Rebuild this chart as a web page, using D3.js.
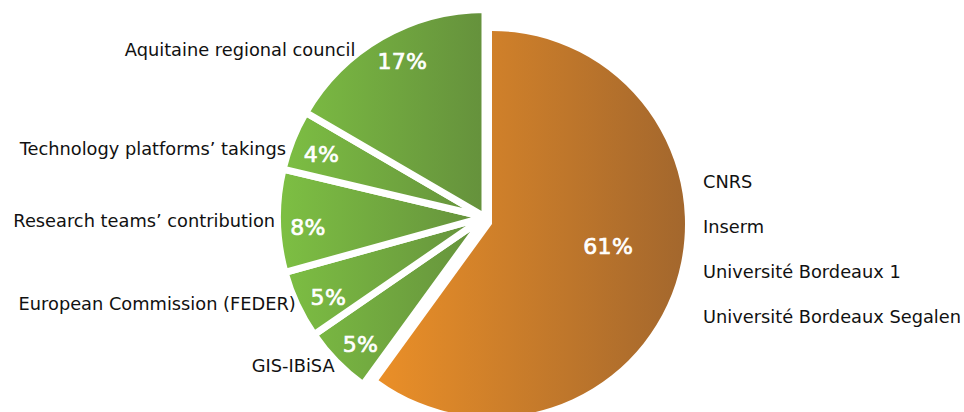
<!DOCTYPE html>
<html><head><meta charset="utf-8">
<script src="https://cdn.jsdelivr.net/npm/d3@7"></script>
<style>
html,body{margin:0;padding:0;background:#fff;}
svg{display:block;font-family:"DejaVu Sans",sans-serif;}
</style></head>
<body><svg id="chart" width="964" height="412"></svg>
<script>
// ---- data ----
const categories = ["Public bodies","GIS-IBiSA","European Commission (FEDER)","Research teams’ contribution","Technology platforms’ takings","Aquitaine regional council"];
const values = [60.0, 5.4, 5.3, 8.0, 4.7, 16.6];
const valueLabels = ["61%","5%","5%","8%","4%","17%"];
const publicBodies = ["CNRS","Inserm","Université Bordeaux 1","Université Bordeaux Segalen"];

// ---- layout ----
const W = 964, H = 412;
const cx = 485, cy = 217;           // centre of the green slices
const R = 207.5, gap = 7;
const orangeShift = [7, 7];         // exploded "public bodies" slice
const Ro = 193;

const svg = d3.select("#chart");
const defs = svg.append("defs");
const gGreen = defs.append("linearGradient").attr("id","gGreen")
  .attr("gradientUnits","userSpaceOnUse").attr("x1",-205).attr("x2",0).attr("y1",0).attr("y2",0);
gGreen.append("stop").attr("offset","0%").attr("stop-color","#7dbf43");
gGreen.append("stop").attr("offset","100%").attr("stop-color","#65913c");
const gOrange = defs.append("linearGradient").attr("id","gOrange")
  .attr("gradientUnits","userSpaceOnUse").attr("x1",-160).attr("x2",Ro).attr("y1",0).attr("y2",0);
gOrange.append("stop").attr("offset","0%").attr("stop-color","#f59527");
gOrange.append("stop").attr("offset","100%").attr("stop-color","#a3672d");

const pie = d3.pie().sort(null).value(d => d)(values);
const arc = d3.arc().innerRadius(0).outerRadius(R);
const arcOrange = d3.arc().innerRadius(0).outerRadius(Ro);
const pctArc = d3.arc().innerRadius(174).outerRadius(174);
const nameArc = d3.arc().innerRadius(210).outerRadius(210);
const pctNudge = [[4,-14],[0,6],[1,7],[-3,7],[-2,2],[4,-5]];
const nameNudge = [[0,0],[0,2],[1,-2],[0,0],[-4,9],[-25,15]];

const pctStyle = sel => sel.attr("text-anchor","middle").attr("dominant-baseline","central")
  .attr("fill","#fff").attr("stroke","#fff").attr("stroke-width",0.7)
  .attr("font-size",22).attr("letter-spacing",0.3);

// orange slice
const go = svg.append("g").attr("transform",`translate(${cx+orangeShift[0]},${cy+orangeShift[1]})`);
go.append("path").attr("d",arcOrange(pie[0])).attr("fill","url(#gOrange)");
{
  const c = d3.arc().innerRadius(118).outerRadius(118).centroid(pie[0]);
  go.append("text").attr("x",c[0]+pctNudge[0][0]).attr("y",c[1]+pctNudge[0][1])
    .call(pctStyle).text(valueLabels[0]);
}

// green slices
const gg = svg.append("g").attr("transform",`translate(${cx},${cy})`);
gg.selectAll("path.g").data(pie.slice(1)).join("path").attr("class","g")
  .attr("d",arc).attr("fill","url(#gGreen)")
  .attr("stroke","#fff").attr("stroke-width",gap).attr("stroke-linejoin","miter");

pie.forEach((p,i) => {
  if (i === 0) return;
  const c = pctArc.centroid(p);
  gg.append("text").attr("x",c[0]+pctNudge[i][0]).attr("y",c[1]+pctNudge[i][1])
    .call(pctStyle).text(valueLabels[i]);
  const o = nameArc.centroid(p);
  gg.append("text").attr("x",o[0]+nameNudge[i][0]).attr("y",o[1]+nameNudge[i][1])
    .attr("text-anchor","end").attr("dominant-baseline","central")
    .attr("fill","#111").attr("font-size",17.8).text(categories[i]);
});

// right-hand list of public bodies
const yList = d3.scalePoint().domain(publicBodies).range([181, 316]);
svg.append("g").selectAll("text").data(publicBodies).join("text")
  .attr("x",703).attr("y",d => yList(d)).attr("dominant-baseline","central")
  .attr("fill","#111").attr("font-size",17.8).text(d => d);
</script></body></html>
